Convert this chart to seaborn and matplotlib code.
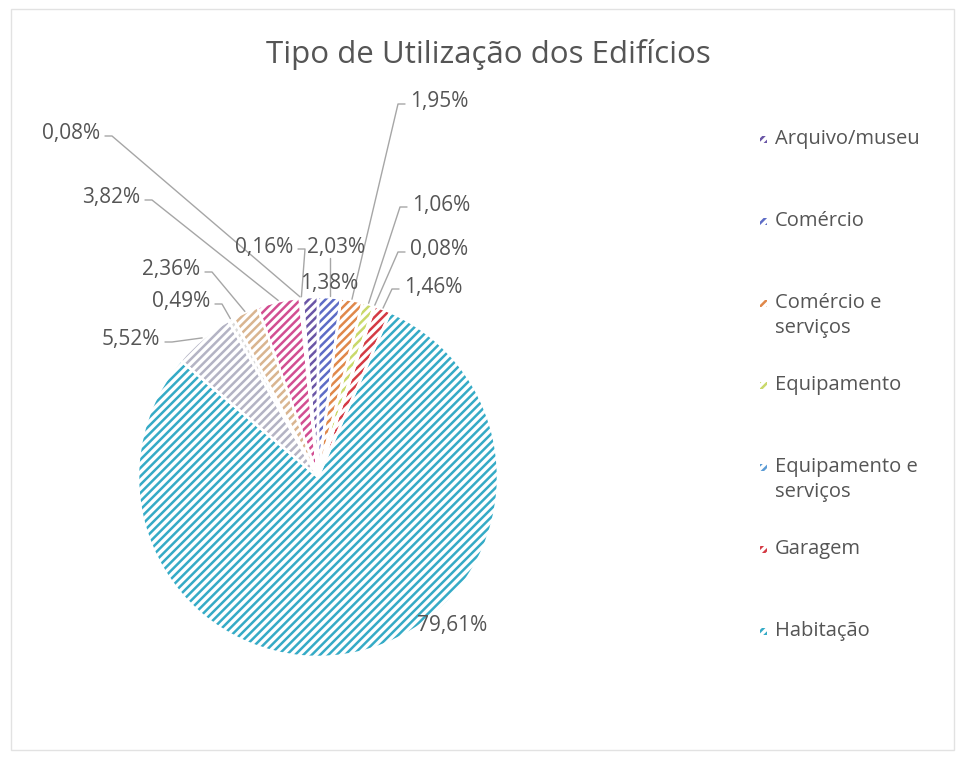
import numpy as np
import matplotlib.pyplot as plt
import seaborn as sns
from matplotlib.patches import Rectangle

# dados (a legenda original só mostra as 7 primeiras)
titulo = "Tipo de Utilização dos Edifícios"
categorias = ["Arquivo/museu", "Comércio", "Comércio e\nserviços", "Equipamento",
              "Equipamento e\nserviços", "Garagem", "Habitação"]
valores = [1.38, 2.03, 1.95, 1.06, 0.08, 1.46, 79.61, 5.52, 0.49, 2.36, 3.82, 0.08, 0.16]
cores = ["#6a56a6", "#5d6cc6", "#e0884a", "#c9d96a", "#5a9bd5", "#d43a44", "#35abc6",
         "#b4b4c4", "#d8d8d8", "#d9b590", "#d24e92", "#9a7fc0", "#8a6ab8"]

# layout em pixels (y medido a partir do topo)
W, H = 957, 757
CX, CY, R = 318, 477, 180
# (x, y, alinhamento, tipo de linha de chamada)
rotulos = [
    (329, 283, "center", None),
    (336, 248, "center", "baixo"),
    (410, 102, "left", "lado"),
    (412, 205, "left", "lado"),
    (410, 250, "left", "lado"),
    (404, 287, "left", "lado"),
    (452, 625, "center", None),
    (160, 340, "right", "lado"),
    (210, 302, "right", "lado"),
    (200, 270, "right", "lado"),
    (140, 198, "right", "lado"),
    (100, 134, "right", "lado"),
    (293, 247, "right", "lado"),
]

sns.set_theme(style="white")
plt.rcParams["font.family"] = ["Open Sans", "DejaVu Sans"]
plt.rcParams["hatch.linewidth"] = 1.8
cinza = "#555555"
linha = "#a6a6a6"

def py(y):
    return H - y

fig = plt.figure(figsize=(W / 100, H / 100), dpi=100)
ax = fig.add_axes([0, 0, 1, 1])

inicio = 90 + valores[0] * 3.6
cunhas, _ = ax.pie(valores, colors=cores, startangle=inicio, counterclock=False,
                   center=(CX, py(CY)), radius=R)
for w, c in zip(cunhas, cores):
    w.set_facecolor("white")
    w.set_edgecolor(c)
    w.set_linewidth(0)
    w.set_hatch("////")
# separadores brancos entre fatias
ax.pie(valores, colors=["none"] * len(valores), startangle=inicio, counterclock=False,
       center=(CX, py(CY)), radius=R,
       wedgeprops=dict(edgecolor="white", linewidth=1.8, fill=False))

ax.set_xlim(0, W)
ax.set_ylim(0, H)
ax.set_aspect("equal")
ax.axis("off")

# rótulos de percentagem
for w, v, (x, y, ha, tipo) in zip(cunhas, valores, rotulos):
    txt = f"{v:.2f}%".replace(".", ",")
    ax.text(x, py(y), txt, ha=ha, va="center", fontsize=15, color=cinza)
    ang = np.deg2rad((w.theta1 + w.theta2) / 2)
    px_, py_ = CX + (R + 1) * np.cos(ang), py(CY) + (R + 1) * np.sin(ang)
    if tipo == "baixo":
        ax.plot([px_, px_], [py(y + 10), py_], color=linha, lw=1)
    elif tipo == "lado":
        s = 1 if ha == "right" else -1
        x0 = x + s * 5
        x1 = x + s * 12
        ax.plot([x0, x1, px_], [py(y + 2), py(y + 2), py_], color=linha, lw=1)

# título
ax.text(488, py(54), titulo, ha="center", va="center", fontsize=22.5, color=cinza)

# legenda (como no original, só as 7 primeiras categorias)
for i, nome in enumerate(categorias):
    y = 140 + 82 * i
    ax.add_patch(Rectangle((760, py(y) - 3), 7, 7, facecolor="white",
                           edgecolor=cores[i], hatch="////", linewidth=0))
    ax.text(775, py(y) + 11, nome, ha="left", va="top", fontsize=14.5,
            color=cinza, linespacing=1.35)

# moldura do gráfico
ax.add_patch(Rectangle((11, py(750)), 943, 741, fill=False, edgecolor="#e2e2e2", lw=1))

fig.savefig("out.png", dpi=100)
